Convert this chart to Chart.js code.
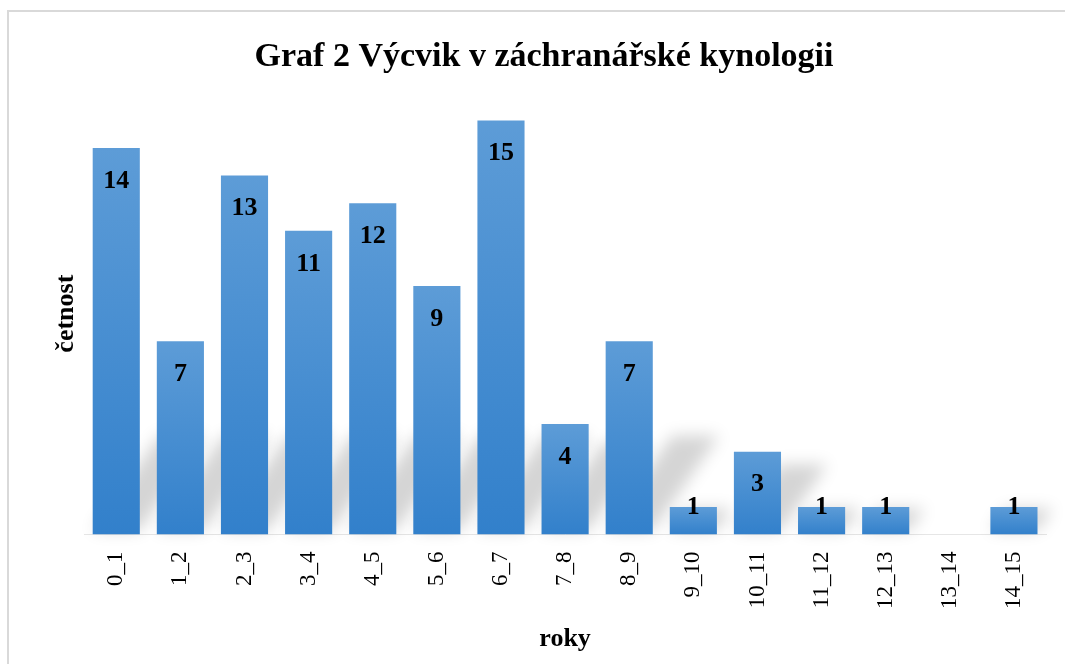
<!DOCTYPE html>
<html>
<head>
<meta charset="utf-8">
<script src="https://cdn.jsdelivr.net/npm/chart.js@4"></script>
<style>
  html, body { margin: 0; padding: 0; background: #fff; overflow: hidden; }
  #box {
    position: absolute; left: 7px; top: 10px;
    width: 1072px; height: 653px;
    border-left: 2px solid #d9d9d9; border-top: 2px solid #d9d9d9;
    background: #fff;
  }
  #chart { display: block; }
</style>
</head>
<body>
<div id="box"><canvas id="chart" width="1070" height="653"></canvas></div>
<script>
// data
const categories = ['0_1', '1_2', '2_3', '3_4', '4_5', '5_6', '6_7', '7_8', '8_9', '9_10', '10_11', '11_12', '12_13', '13_14', '14_15'];
const counts = [14, 7, 13, 11, 12, 9, 15, 4, 7, 1, 3, 1, 1, 0, 1];

const titleText = 'Graf 2 Výcvik v záchranářské kynologii';
const xTitle = 'roky';
const yTitle = 'četnost';

const serif = '"Liberation Serif", "Times New Roman", serif';
const topBlue = '#5d9cd7';
const bottomBlue = '#3280cb';

// soft shadow behind each bar, leaning up and to the right
const shadowPlugin = {
    id: 'barShadow',
    beforeDatasetsDraw(chart) {
        const ctx = chart.ctx;
        const meta = chart.getDatasetMeta(0);
        const off = 5000;
        ctx.save();
        ctx.fillStyle = '#000';
        ctx.shadowColor = 'rgba(0,0,0,0.17)';
        ctx.shadowBlur = 16;
        ctx.shadowOffsetX = off;
        meta.data.forEach(function(bar) {
            const h = bar.base - bar.y;
            if (h <= 0) return;
            const dy = Math.min(h * 0.8, 95);
            const dx = dy * 0.7;
            const l = bar.x - bar.width / 2 - off, r = bar.x + bar.width / 2 - off;
            ctx.beginPath();
            ctx.moveTo(l, bar.base - 4);
            ctx.lineTo(r, bar.base - 4);
            ctx.lineTo(r + dx, bar.base - 4 - dy);
            ctx.lineTo(l + dx, bar.base - 4 - dy);
            ctx.closePath();
            ctx.fill();
        });
        ctx.restore();
    }
};

// value labels at the inside end of the bars
const labelPlugin = {
    id: 'barLabels',
    afterDatasetsDraw(chart) {
        const ctx = chart.ctx;
        const meta = chart.getDatasetMeta(0);
        ctx.save();
        ctx.font = 'bold 26px ' + serif;
        ctx.fillStyle = '#000';
        ctx.textAlign = 'center';
        ctx.textBaseline = 'middle';
        meta.data.forEach(function(bar, i) {
            if (!counts[i]) return;
            const cy = Math.min(bar.y + 33, bar.base - 27);
            ctx.fillText(String(counts[i]), bar.x, cy);
        });
        ctx.restore();
    }
};

const ctx = document.getElementById('chart').getContext('2d');
new Chart(ctx, {
    type: 'bar',
    data: {
        labels: categories,
        datasets: [{
            label: yTitle,
            data: counts,
            backgroundColor: function(c) {
                const chart = c.chart;
                const y = chart.scales.y;
                if (!chart.chartArea || !y || c.type !== 'data') return topBlue;
                const top = y.getPixelForValue(c.raw);
                const bot = y.getPixelForValue(0);
                if (!(bot - top > 0)) return topBlue;
                const g = chart.ctx.createLinearGradient(0, top, 0, bot);
                g.addColorStop(0, topBlue);
                g.addColorStop(1, bottomBlue);
                return g;
            },
            borderWidth: 0,
            barPercentage: 0.735,
            categoryPercentage: 1
        }]
    },
    options: {
        responsive: false,
        animation: false,
        layout: { padding: { left: 33, right: 33, top: 0, bottom: 0 } },
        plugins: {
            legend: { display: false },
            tooltip: { enabled: false },
            title: {
                display: true,
                text: titleText,
                color: '#000',
                font: { family: serif, size: 34, weight: 'bold' },
                padding: { top: 25, bottom: 15 }
            }
        },
        scales: {
            x: {
                grid: { display: false, drawTicks: false },
                border: { display: true, color: '#e6e6e6', width: 1 },
                ticks: {
                    color: '#000',
                    font: { family: serif, size: 23 },
                    minRotation: 90,
                    maxRotation: 90,
                    autoSkip: false,
                    padding: 17
                },
                title: {
                    display: true,
                    text: xTitle,
                    color: '#000',
                    font: { family: serif, size: 26, weight: 'bold', lineHeight: 1 },
                    padding: { top: 0, bottom: 13 }
                }
            },
            y: {
                min: 0,
                max: 16,
                grid: { display: false, drawTicks: false },
                border: { display: false },
                ticks: { display: false },
                title: {
                    display: true,
                    text: yTitle,
                    color: '#000',
                    font: { family: serif, size: 26, weight: 'bold' },
                    padding: { top: 9, bottom: 2 }
                }
            }
        }
    },
    plugins: [shadowPlugin, labelPlugin]
});
</script>
</body>
</html>
